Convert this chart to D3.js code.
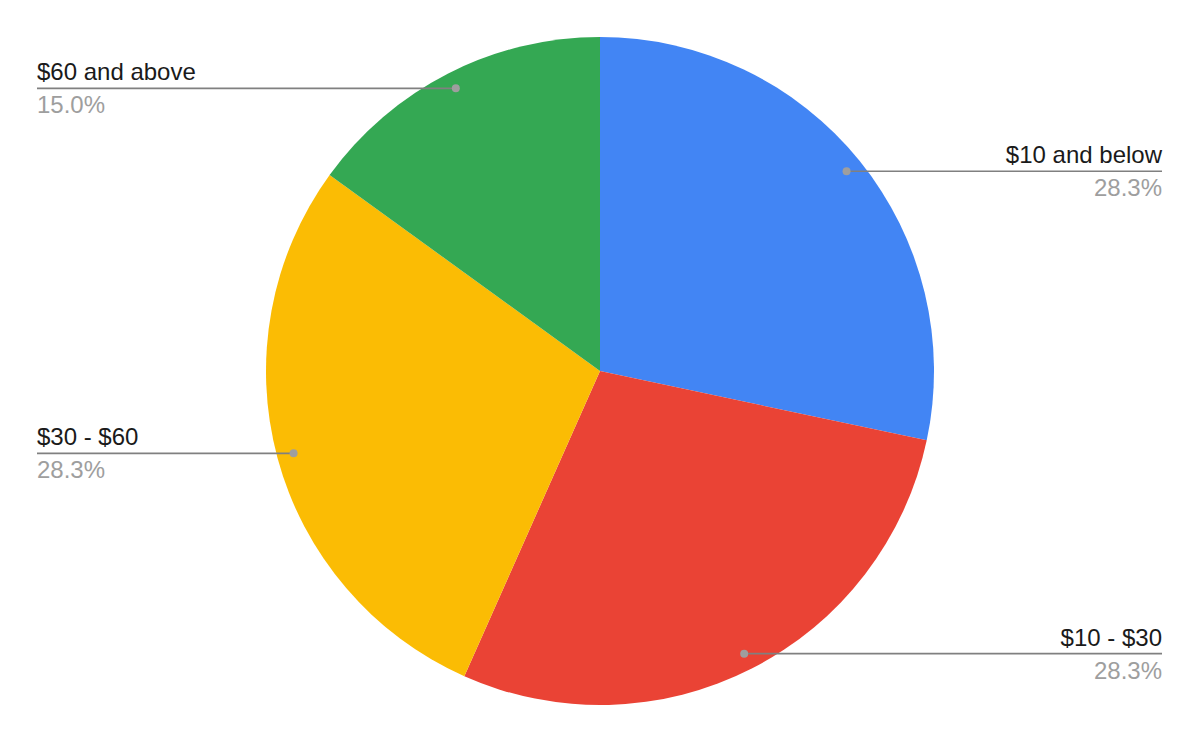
<!DOCTYPE html>
<html lang="en">
<head>
    <meta charset="UTF-8">
    <script src="https://d3js.org/d3.v7.min.js"></script>
    <title>Price range pie</title>
    <style>
        body { margin: 0; background: #fff; }
    </style>
</head>
<body>
    <svg width="1200" height="742" id="pie"></svg>
    <script>
        // chart data
        const categories = ["$10 and below", "$10 - $30", "$30 - $60", "$60 and above"];
        const shares = [28.3, 28.3, 28.3, 15.0];
        const sliceColors = ["#4285f4", "#ea4335", "#fbbc04", "#34a853"];

        const cx = 600;
        const cy = 371;
        const radius = 334;
        const leftEdge = 37;
        const rightEdge = 1162;

        const svg = d3.select("#pie");
        const g = svg.append("g").attr("transform", `translate(${cx},${cy})`);

        const rows = categories.map((c, i) => ({ name: c, value: shares[i], color: sliceColors[i] }));

        const pie = d3.pie().sort(null).value(d => d.value);
        const arc = d3.arc().innerRadius(0).outerRadius(radius);
        const dotArc = d3.arc().innerRadius(radius * 0.95).outerRadius(radius * 0.95);

        const arcs = pie(rows);

        // slices
        g.selectAll("path.slice")
            .data(arcs)
            .enter()
            .append("path")
            .attr("class", "slice")
            .attr("d", arc)
            .style("fill", d => d.data.color);

        // leader lines, dots and labels
        arcs.forEach(d => {
            const [px, py] = dotArc.centroid(d);
            const right = px > 0;
            const endX = (right ? rightEdge : leftEdge) - cx;

            g.append("line")
                .attr("x1", px)
                .attr("y1", py)
                .attr("x2", endX)
                .attr("y2", py)
                .style("stroke", "#808080")
                .style("stroke-width", 1.6);

            g.append("circle")
                .attr("cx", px)
                .attr("cy", py)
                .attr("r", 4)
                .style("fill", "#9e9e9e");

            g.append("text")
                .attr("x", endX)
                .attr("y", py - 8)
                .attr("text-anchor", right ? "end" : "start")
                .style("font-family", "'Liberation Sans', Arial, sans-serif")
                .style("font-size", "24px")
                .style("fill", "#1a1a1a")
                .text(d.data.name);

            g.append("text")
                .attr("x", endX)
                .attr("y", py + 25)
                .attr("text-anchor", right ? "end" : "start")
                .style("font-family", "'Liberation Sans', Arial, sans-serif")
                .style("font-size", "24px")
                .style("fill", "#9e9e9e")
                .text(d.data.value.toFixed(1) + "%");
        });
    </script>
</body>
</html>
